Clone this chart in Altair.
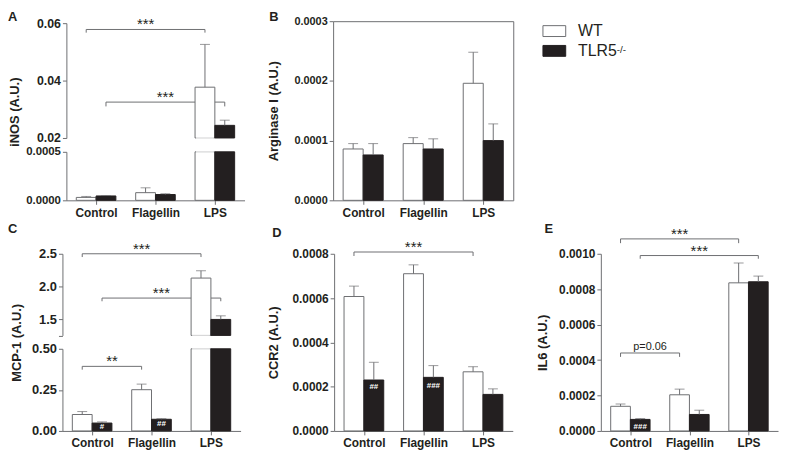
import altair as alt
import pandas as pd

groups = ["Control", "Flagellin", "LPS"]
series = ["WT", "TLR5"]

# Panel A: iNOS (A.U.)
inos_wt = [0.00003, 0.000079, 0.0377]
inos_wt_sem = [0.00001, 0.00005, 0.0149]
inos_ko = [0.000045, 0.00006, 0.0244]
inos_ko_sem = [0.000005, 0.000008, 0.0018]
# Panel B: Arginase I (A.U.)
arg_wt = [0.000086, 0.000095, 0.000196]
arg_wt_sem = [0.000009, 0.00001, 0.000052]
arg_ko = [0.000076, 0.000086, 0.0001]
arg_ko_sem = [0.000019, 0.000017, 0.000028]
# Panel C: MCP-1 (A.U.)
mcp_wt = [0.10, 0.251, 2.128]
mcp_wt_sem = [0.018, 0.034, 0.112]
mcp_ko = [0.048, 0.071, 1.495]
mcp_ko_sem = [0.007, 0.004, 0.055]
# Panel D: CCR2 (A.U.)
ccr_wt = [0.000607, 0.00071, 0.000267]
ccr_wt_sem = [0.000047, 0.00004, 0.000023]
ccr_ko = [0.00023, 0.000242, 0.000165]
ccr_ko_sem = [0.00008, 0.000053, 0.000025]
# Panel E: IL6 (A.U.)
il6_wt = [0.000139, 0.000204, 0.000836]
il6_wt_sem = [0.000013, 0.000032, 0.000112]
il6_ko = [0.000065, 0.000093, 0.000842]
il6_ko_sem = [0.000005, 0.000024, 0.000032]

# significance brackets
br_seg = ["A_hi", "A_hi", "C_hi", "C_hi", "C_lo", "D", "E", "E", "E"]
br_g1 = [0, 0, 0, 0, 0, 0, 0, 0, 0]
br_s1 = [0, 1, 0, 1, 0, 0, 0, 1, 0]
br_g2 = [2, 2, 2, 2, 1, 2, 2, 2, 1]
br_s2 = [0, 1, 0, 1, 0, 0, 0, 1, 0]
br_y = [0.0578, 0.0325, 2.5, 1.822, 0.393, 0.000808, 0.001084, 0.00099, 0.00044]
br_leg = [0.0567, 0.031, 2.45, 1.773, 0.373, 0.00079, 0.00106, 0.000972, 0.000418]
br_label = ["***", "***", "***", "***", "**", "***", "***", "***", "p=0.06"]

# '#' marks inside TLR5 bars
hs_seg = ["C_lo", "C_lo", "D", "D", "E"]
hs_g = [0, 1, 0, 1, 0]
hs_s = [1, 1, 1, 1, 1]
hs_y = [0.021, 0.042, 0.000197, 0.000204, 0.0000207]
hs_label = ["#", "##", "##", "###", "###"]

letters = ["A", "B", "C", "D", "E"]

panel_data = {
    "A": (inos_wt, inos_wt_sem, inos_ko, inos_ko_sem),
    "B": (arg_wt, arg_wt_sem, arg_ko, arg_ko_sem),
    "C": (mcp_wt, mcp_wt_sem, mcp_ko, mcp_ko_sem),
    "D": (ccr_wt, ccr_wt_sem, ccr_ko, ccr_ko_sem),
    "E": (il6_wt, il6_wt_sem, il6_ko, il6_ko_sem),
}
rows = []
for p, (w, ws, k, ks) in panel_data.items():
    for gi, g in enumerate(groups):
        for si, (vals, sems) in enumerate([(w, ws), (k, ks)]):
            rows.append({"panel": p, "group": g, "gi": gi, "series": series[si],
                         "si": si, "value": vals[gi], "sem": sems[gi]})
bars_df = pd.DataFrame(rows)
br_df = pd.DataFrame({"seg": br_seg, "g1": br_g1, "s1": br_s1, "g2": br_g2,
                      "s2": br_s2, "y": br_y, "leg": br_leg, "label": br_label})
hs_df = pd.DataFrame({"seg": hs_seg, "gi": hs_g, "si": hs_s, "y": hs_y, "label": hs_label})
let_df = pd.DataFrame({"t": letters})

GRAY = "#6d6e71"
DARK = "#231f20"
FONT = "Liberation Sans"
W, H = 779, 448

fill_scale = alt.Scale(domain=series, range=["#ffffff", DARK])
stroke_scale = alt.Scale(domain=series, range=[GRAY, DARK])
legend = alt.Legend(orient="none", legendX=540, legendY=9, title=None,
                    symbolType="M-1,-0.478H1V0.478H-1Z", symbolSize=529,
                    symbolStrokeWidth=1, labelFontSize=16, labelFont=FONT,
                    labelFontWeight="normal", labelColor=DARK, labelOffset=12,
                    rowPadding=0, padding=0)
label_expr = "[" + ",".join("'%s'" % g for g in groups) + "][floor(datum.value)]"

Y_TOP = 448 - 192   # bottom axis offsets
Y_BOT = 448 - 425

SEGS = [
    dict(key="A_lo", panel="A", xr=[59, 239], yr=[192, 143], dom=[0, 0.0005],
         yvals=[0, 0.0005], yfmt=".4f", yx=59, xoff=-Y_TOP, lfs=11.5),
    dict(key="A_hi", panel="A", xr=[59, 239], yr=[129, 13], dom=[0.02, 0.06],
         yvals=[0.02, 0.04, 0.06], yfmt=".2f", yx=59, xoff=None, lfs=12.5),
    dict(key="B", panel="B", xr=[328.5, 510.5], yr=[192, 11], dom=[0, 0.0003],
         yvals=[0, 0.0001, 0.0002, 0.0003], yfmt=".4f", yx=328.5, xoff=-Y_TOP, lfs=11),
    dict(key="C_lo", panel="C", xr=[55, 235], yr=[425, 342], dom=[0, 0.5],
         yvals=[0, 0.25, 0.5], yfmt=".2f", yx=55, xoff=-Y_BOT, lfs=13),
    dict(key="C_hi", panel="C", xr=[55, 235], yr=[328.5, 246], dom=[1.25, 2.5],
         yvals=[1.25, 1.5, 2.0, 2.5], yfmt=".1f", yx=55, xoff=None, lfs=13,
         lexpr="datum.value < 1.4 ? '' : format(datum.value, '.1f')"),
    dict(key="D", panel="D", xr=[329.5, 510], yr=[425, 246], dom=[0, 0.0008],
         yvals=[0, 0.0002, 0.0004, 0.0006, 0.0008], yfmt=".4f", yx=329.5, xoff=-Y_BOT, lfs=12),
    dict(key="E", panel="E", xr=[599, 778], yr=[425, 246], dom=[0, 0.001],
         yvals=[0, 0.0002, 0.0004, 0.0006, 0.0008, 0.001], yfmt=".4f", yx=599, xoff=-Y_BOT, lfs=12),
]

# axis titles spanning each whole panel
TITLES = [
    dict(panel="A", text="iNOS (A.U.)", yr=[192, 13], yx=59, pad=45),
    dict(panel="B", text="Arginase I (A.U.)", yr=[192, 11], yx=328.5, pad=53),
    dict(panel="C", text="MCP-1 (A.U.)", yr=[425, 246], yx=55, pad=39),
    dict(panel="D", text="CCR2 (A.U.)", yr=[425, 246], yx=329.5, pad=54),
    dict(panel="E", text="IL6 (A.U.)", yr=[425, 246], yx=599, pad=52),
]


def seg_layers(s):
    lo, hi = s["dom"]
    p = s["panel"]
    xsc = alt.Scale(domain=[0, 3], range=s["xr"], nice=False, zero=False)
    ysc = alt.Scale(domain=[lo, hi], range=s["yr"], nice=False, zero=False)

    def X(f, axis=None):
        return alt.X(f, type="quantitative", scale=xsc, axis=axis)

    def Y(f, axis=None):
        return alt.Y(f, type="quantitative", scale=ysc, axis=axis)

    yaxis_kw = dict(orient="left", offset=-s["yx"], values=s["yvals"], format=s["yfmt"],
                    grid=False, title=None, labelFontSize=s["lfs"])
    if "lexpr" in s:
        yaxis_kw["labelExpr"] = s["lexpr"]
    yaxis = alt.Axis(**yaxis_kw)
    xaxis = None
    if s["xoff"] is not None:
        xaxis = alt.Axis(orient="bottom", offset=s["xoff"], values=[0.5, 1.5, 2.5],
                         labelExpr=label_expr, title=None, grid=False, labelFlush=False)

    layers = []
    if s["key"] in br_seg:
        br = alt.Chart(br_df).transform_filter(alt.datum.seg == s["key"]).transform_calculate(
            xa="datum.g1 + 1/3 + datum.s1/3", xb="datum.g2 + 1/3 + datum.s2/3",
            xm="(datum.g1 + datum.g2)/2 + 1/3 + (datum.s1 + datum.s2)/6")
        layers.append(br.mark_rule(color=GRAY, strokeWidth=1).encode(
            x=X("xa"), x2=alt.X2("xb:Q"), y=Y("y")))
        layers.append(br.transform_fold(["xa", "xb"], as_=["end", "xe"]).mark_rule(
            color=GRAY, strokeWidth=1).encode(x=X("xe"), y=Y("y"), y2=alt.Y2("leg:Q")))
        layers.append(br.transform_filter("datum.label != 'p=0.06'").mark_text(
            font=FONT, fontSize=15, color=DARK, baseline="alphabetic", dy=0).encode(
            x=X("xm"), y=Y("y"), text="label:N"))
        layers.append(br.transform_filter("datum.label == 'p=0.06'").mark_text(
            font=FONT, fontSize=11, color=DARK, baseline="alphabetic", dy=-3).encode(
            x=X("xm"), y=Y("y"), text="label:N"))

    bars = alt.Chart(bars_df).transform_filter(
        "datum.panel == '%s' && datum.value > %r" % (p, lo)).transform_calculate(
        x1="datum.gi + 1/6 + datum.si/3", x2="datum.gi + 1/2 + datum.si/3",
        ytop="min(datum.value, %r)" % hi, ybot="%r" % lo)
    layers.append(bars.mark_rect(strokeWidth=1).encode(
        x=X("x1", xaxis), x2=alt.X2("x2:Q"), y=Y("ytop", yaxis), y2=alt.Y2("ybot:Q"),
        fill=alt.Fill("series:N", scale=fill_scale, legend=legend),
        stroke=alt.Stroke("series:N", scale=stroke_scale, legend=legend)))

    # hide the cut edges of broken bars
    if lo > 0:
        layers.append(alt.Chart(bars_df).transform_filter(
            "datum.panel == '%s' && datum.series == 'WT' && datum.value > %r" % (p, lo)
        ).transform_calculate(xc="datum.gi + 1/3 + datum.si/3", edge="%r" % lo).mark_tick(
            orient="horizontal", size=18, thickness=2, color="white").encode(x=X("xc"), y=Y("edge")))
    layers.append(alt.Chart(bars_df).transform_filter(
        "datum.panel == '%s' && datum.series == 'WT' && datum.value > %r" % (p, hi)
    ).transform_calculate(xc="datum.gi + 1/3 + datum.si/3", edge="%r" % hi).mark_tick(
        orient="horizontal", size=18, thickness=2, color="white").encode(x=X("xc"), y=Y("edge")))

    err = alt.Chart(bars_df).transform_filter(
        "datum.panel == '%s' && datum.value > %r && datum.value + datum.sem <= %r" % (p, lo, hi * 1.0001)
    ).transform_calculate(xc="datum.gi + 1/3 + datum.si/3", top="datum.value + datum.sem")
    layers.append(err.mark_rule(color=GRAY, strokeWidth=1).encode(
        x=X("xc"), y=Y("value"), y2=alt.Y2("top:Q")))
    layers.append(err.mark_tick(orient="horizontal", size=10, thickness=1, color=GRAY).encode(
        x=X("xc"), y=Y("top")))

    if s["key"] in hs_seg:
        layers.append(alt.Chart(hs_df).transform_filter(alt.datum.seg == s["key"]).transform_calculate(
            xc="datum.gi + 1/3 + datum.si/3").mark_text(
            font=FONT, fontSize=8, fontWeight="bold", color="white", baseline="middle").encode(
            x=X("xc"), y=Y("y"), text="label:N"))
    return layers


children = []
for s in SEGS:
    children.extend(seg_layers(s))

for t in TITLES:
    children.append(alt.Chart(bars_df).transform_filter("datum.panel == '%s'" % t["panel"]).mark_point(
        opacity=0).encode(
        y=alt.Y("value:Q", scale=alt.Scale(domain=[0, 1], range=t["yr"], nice=False, zero=False),
                axis=alt.Axis(orient="left", offset=-t["yx"], labels=False, ticks=False, domain=False,
                              grid=False, title=t["text"], titlePadding=t["pad"]))))

# box around panel B
sB = SEGS[2]
frame = alt.Chart(bars_df).transform_filter("datum.panel == 'B'").mark_point(opacity=0).encode(
    x=alt.X("gi:Q", scale=alt.Scale(domain=[0, 3], range=sB["xr"], nice=False, zero=False),
            axis=alt.Axis(orient="top", offset=-11, labels=False, ticks=False, title=None, grid=False)),
    y=alt.Y("value:Q", scale=alt.Scale(domain=sB["dom"], range=sB["yr"], nice=False, zero=False),
            axis=alt.Axis(orient="right", offset=sB["xr"][1] - W, labels=False, ticks=False,
                          title=None, grid=False)))
children.append(frame)

letter_pos = {"A": (0, 11), "B": (264, 11), "C": (0, 225), "D": (267, 229), "E": (542, 225)}
for L in letters:
    lx, ly = letter_pos[L]
    children.append(alt.Chart(let_df).transform_filter(alt.datum.t == L).mark_text(
        font=FONT, fontSize=13, fontWeight="bold", color=DARK, align="left",
        baseline="alphabetic").encode(text="t:N", x=alt.value(lx), y=alt.value(ly)))

sup_df = pd.DataFrame({"t": ["-/-"]})
children.append(alt.Chart(sup_df).mark_text(
    font=FONT, fontSize=10, color=DARK, align="left", baseline="alphabetic").encode(
    text="t:N", x=alt.value(615), y=alt.value(43)))

chart = alt.layer(*children).resolve_scale(x="independent", y="independent").properties(
    width=W, height=H, padding=0, autosize=alt.AutoSizeParams(type="none")
).configure_view(stroke=None).configure_axis(
    domainColor=GRAY, tickColor=GRAY, tickSize=4, labelFont=FONT, labelFontWeight="bold",
    labelColor=DARK, titleFont=FONT, titleFontWeight="bold", titleFontSize=13,
    titleColor=DARK, grid=False
).configure_axisX(labelFontSize=12, labelPadding=3).configure_axisY(labelPadding=2)

chart.save("out.html", embed_options={"renderer": "svg", "actions": False})
